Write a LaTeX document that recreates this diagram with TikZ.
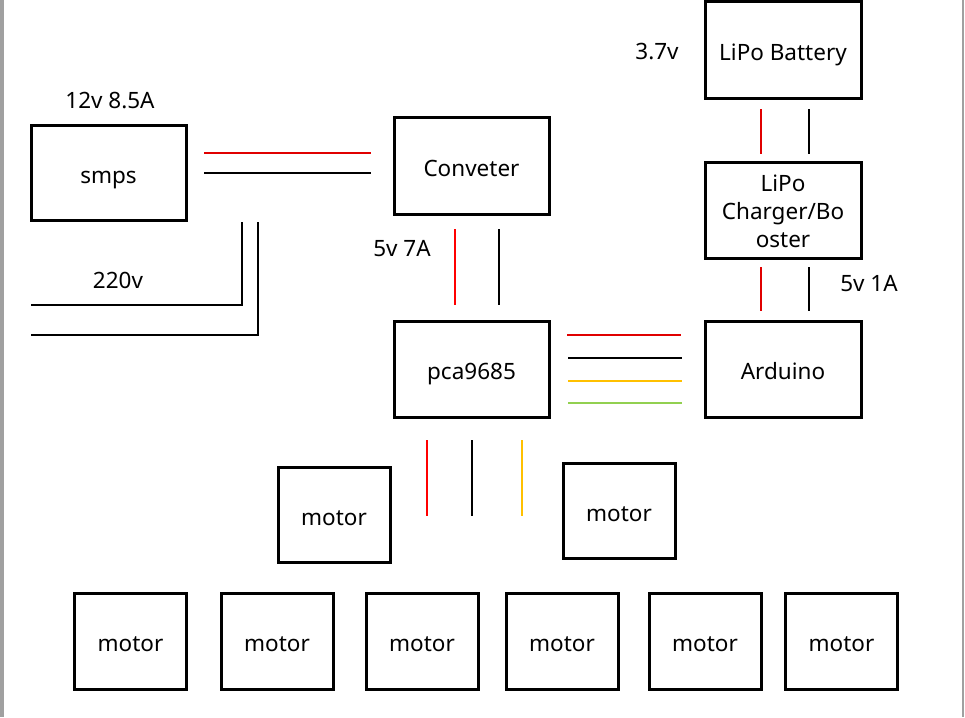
\documentclass[tikz,border=0pt]{standalone}
\usepackage{fontspec}
\setmainfont{Noto Sans}
\definecolor{wred}{HTML}{E00000}
\definecolor{wyel}{HTML}{FFC000}
\definecolor{wgrn}{HTML}{92D050}
\definecolor{frame}{HTML}{A0A0A0}
\begin{document}
\begin{tikzpicture}[x=1pt,y=-1pt,
  box0/.style={draw=black,line width=3pt,inner sep=0pt,font=\fontsize{22.5}{28}\selectfont,align=center},
  box/.style={box0,text height=21pt,text depth=0pt},
  mbox/.style={box,minimum width=112pt,minimum height=96pt},
  lbl/.style={font=\fontsize{22.5}{26}\selectfont,inner sep=0pt},
  wire/.style={line width=1.1pt}]
\useasboundingbox (0,0) rectangle (965,717);
\fill[white] (0,0) rectangle (965,717);
\fill[frame] (0,0) rectangle (3.5,717);
\draw[frame,line width=1.2pt] (963,0) -- (963,717);
% boxes
\node[box,minimum width=155pt,minimum height=95pt] (smps) at (108.5,172.5) {smps};
\node[box,minimum width=155pt,minimum height=97pt] (conv) at (471.5,165.5) {Conveter};
\node[box,minimum width=156pt,minimum height=96pt] (batt) at (783,50) {LiPo Battery};
\node[box0,minimum width=156pt,minimum height=96pt,yshift=-1.5pt,draw=none] (chgt) at (783,210) {LiPo\\Charger/Bo\\oster};
\node[box0,minimum width=156pt,minimum height=96pt] (chg) at (783,210) {};
\node[box,minimum width=156pt,minimum height=96pt] (ard) at (783,369) {Arduino};
\node[box,minimum width=155pt,minimum height=96pt] (pca) at (471.5,369) {pca9685};
\node[mbox,minimum height=95pt] (m1) at (334,514.5) {motor};
\node[mbox,minimum height=95pt] (m2) at (619,510.5) {motor};
\node[mbox] (b1) at (130.5,641) {motor};
\node[mbox] (b2) at (277,641) {motor};
\node[mbox] (b3) at (422,641) {motor};
\node[mbox] (b4) at (562,641) {motor};
\node[mbox] (b5) at (705,641) {motor};
\node[mbox] (b6) at (841.5,641) {motor};
% labels
\node[lbl] (l12) at (110,101) {12v 8.5A};
\node[lbl] (l37) at (657,52) {3.7v};
\node[lbl] (l220) at (118,280) {220v};
\node[lbl] (l57) at (402,249) {5v 7A};
\node[lbl] (l51) at (869,284) {5v 1A};
% wire end points
\coordinate (sr1) at (204,153); \coordinate (sr2) at (371,153);
\coordinate (sb1) at (204,173); \coordinate (sb2) at (371,173);
\coordinate (a1) at (31,305); \coordinate (a2) at (242,305); \coordinate (a3) at (242,222);
\coordinate (c1) at (31,335); \coordinate (c2) at (258,335); \coordinate (c3) at (258,222);
\coordinate (cr1) at (455,229); \coordinate (cr2) at (455,305);
\coordinate (cb1) at (499,229); \coordinate (cb2) at (499,305);
\coordinate (br1) at (761,109); \coordinate (br2) at (761,154);
\coordinate (bb1) at (809,109); \coordinate (bb2) at (809,154);
\coordinate (gr1) at (761,267); \coordinate (gr2) at (761,311);
\coordinate (gb1) at (809,267); \coordinate (gb2) at (809,311);
\coordinate (pr1) at (567,335); \coordinate (pr2) at (681,335);
\coordinate (pb1) at (568,358); \coordinate (pb2) at (682,358);
\coordinate (py1) at (568,381); \coordinate (py2) at (682,381);
\coordinate (pg1) at (568,403); \coordinate (pg2) at (682,403);
\coordinate (mr1) at (427,440); \coordinate (mr2) at (427,516);
\coordinate (mb1) at (472,440); \coordinate (mb2) at (472,516);
\coordinate (my1) at (522,440); \coordinate (my2) at (522,516);
% wires
\draw[wire,wred] (sr1) -- (sr2);
\draw[wire,black] (sb1) -- (sb2);
\draw[wire,black] (a1) -- (a2) -- (a3);
\draw[wire,black] (c1) -- (c2) -- (c3);
\draw[wire,red] (cr1) -- (cr2);
\draw[wire,black] (cb1) -- (cb2);
\draw[wire,wred] (br1) -- (br2);
\draw[wire,black] (bb1) -- (bb2);
\draw[wire,wred] (gr1) -- (gr2);
\draw[wire,black] (gb1) -- (gb2);
\draw[wire,wred] (pr1) -- (pr2);
\draw[wire,black] (pb1) -- (pb2);
\draw[wire,wyel] (py1) -- (py2);
\draw[wire,wgrn] (pg1) -- (pg2);
\draw[wire,red] (mr1) -- (mr2);
\draw[wire,black] (mb1) -- (mb2);
\draw[wire,wyel] (my1) -- (my2);
\end{tikzpicture}
\end{document}
